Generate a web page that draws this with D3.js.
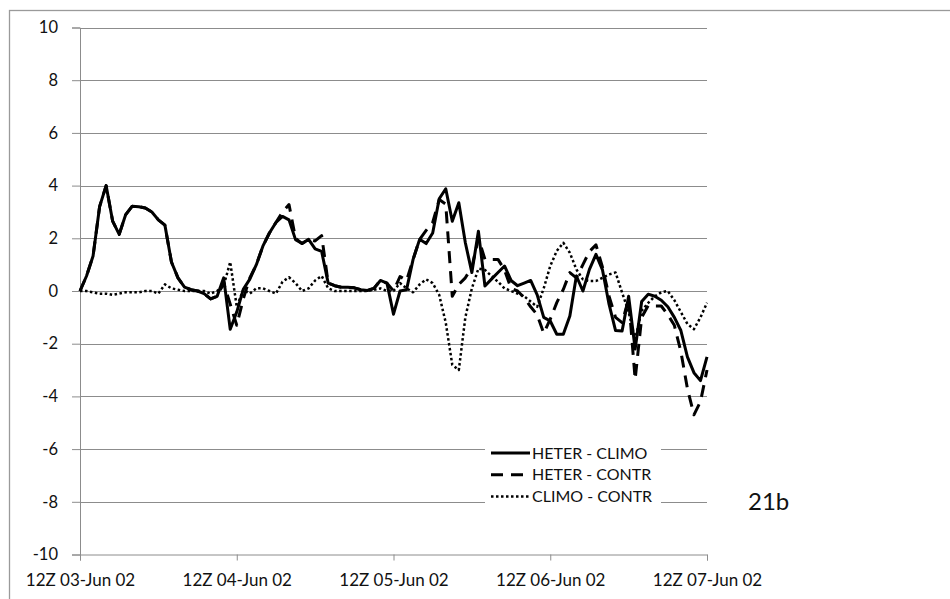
<!DOCTYPE html>
<html><head><meta charset="utf-8">
<script src="https://cdn.jsdelivr.net/npm/d3@7"></script>
<style>html,body{margin:0;padding:0;background:#fff}svg{display:block}</style>
</head><body><svg id="c" width="950" height="599"></svg>
<script>
// hourly values, 12Z 03-Jun 02 .. 12Z 07-Jun 02
const tickLabels = ["12Z 03-Jun 02","12Z 04-Jun 02","12Z 05-Jun 02","12Z 06-Jun 02","12Z 07-Jun 02"];
const tickHours = [0,24,48,72,96];
const yTicks = [-10,-8,-6,-4,-2,0,2,4,6,8,10];
const seriesNames = ["HETER - CLIMO","HETER - CONTR","CLIMO - CONTR"];
const heterClimo = [0,0.57,1.33,3.2,4.0,2.65,2.15,2.9,3.22,3.2,3.15,3.0,2.7,2.5,1.1,0.5,0.15,0.05,0,-0.1,-0.3,-0.2,0.5,-1.45,-0.8,0.06,0.45,1.0,1.7,2.2,2.6,2.83,2.7,1.95,1.8,1.96,1.6,1.5,0.3,0.2,0.14,0.14,0.12,0.05,0.02,0.1,0.4,0.3,-0.88,0,0.05,1.2,1.96,1.8,2.2,3.5,3.88,2.65,3.35,1.83,0.7,2.27,0.19,0.45,0.7,0.95,0.4,0.2,0.3,0.4,-0.15,-1.0,-1.14,-1.64,-1.64,-0.95,0.57,0,0.82,1.39,0.8,-0.5,-1.5,-1.52,-0.2,-2.2,-0.4,-0.12,-0.2,-0.35,-0.6,-1.0,-1.5,-2.5,-3.1,-3.4,-2.5];
const heterContr = [0,0.57,1.33,3.2,4.0,2.65,2.15,2.9,3.22,3.2,3.15,3.0,2.7,2.5,1.1,0.5,0.15,0.05,0,-0.1,-0.3,-0.2,0.3,-0.5,-1.3,-0.3,0.5,1.0,1.7,2.2,2.6,3.0,3.28,2.0,1.8,1.96,1.9,2.1,0.3,0.2,0.14,0.14,0.12,0.05,0.02,0.1,0.4,0.3,0.0,0.55,0.4,1.2,1.96,2.3,2.6,3.47,3.3,-0.2,0.25,0.5,0.9,2.0,1.2,1.2,1.2,0.8,0.1,0.0,-0.25,-0.6,-0.9,-1.6,-1.07,-0.44,0.06,0.7,0.5,1.0,1.5,1.75,0.9,-0.2,-1.0,-1.2,-0.3,-3.35,-1.0,-0.55,-0.57,-0.57,-0.9,-1.3,-2.3,-3.7,-4.7,-4.2,-3.0];
const climoContr = [0,0,-0.05,-0.1,-0.1,-0.15,-0.1,-0.05,-0.05,-0.05,0,0,-0.1,0.25,0.1,0.05,0,0,0,0,-0.1,0,0.2,1.1,-0.6,0.05,-0.1,0.1,0.1,0,-0.1,0.35,0.52,0.3,0,0.1,0.4,0.57,0.1,0,0,0,0,0,0,0.05,0.1,0,0,0.3,0.1,-0.05,0.25,0.44,0.3,-0.15,-1.2,-2.8,-3.0,-1.0,0.1,0.85,0.8,0.57,0.35,0.1,0,-0.1,-0.2,-0.4,-0.6,0.1,0.95,1.52,1.83,1.45,0.82,0.44,0.38,0.38,0.5,0.63,0.7,-0.06,-0.8,-1.83,-0.75,-0.45,-0.2,-0.05,0,-0.35,-0.8,-1.25,-1.45,-1.0,-0.45];
const panelLabel = "21b";

const svg = d3.select("#c");
const font = "Lato, 'Liberation Sans', sans-serif";
const x = d3.scaleLinear().domain([0,96]).range([80,707]);
const y = d3.scaleLinear().domain([-10,10]).range([554.5,27.5]);

// outer chart border (left/top visible)
svg.append("rect").attr("x",9.5).attr("y",10.5).attr("width",1000).attr("height",700)
  .attr("fill","none").attr("stroke","#9a9a9a").attr("stroke-width",1.3);

// gridlines
svg.append("g").selectAll("line").data(yTicks.filter(d=>d>-10)).join("line")
  .attr("x1",x(0)).attr("x2",x(96)).attr("y1",d=>Math.round(y(d))+0.5).attr("y2",d=>Math.round(y(d))+0.5)
  .attr("stroke","#8c8c8c").attr("stroke-width",1);

// y axis
const yAxis = svg.append("g").attr("transform",`translate(${x(0)},0)`)
  .call(d3.axisLeft(y).tickValues(yTicks).tickSize(8).tickPadding(14).tickFormat(d=>String(d)));
yAxis.select(".domain").attr("stroke","#8c8c8c");
yAxis.selectAll(".tick line").attr("stroke","#8c8c8c");
yAxis.selectAll(".tick text").attr("font-family",font).attr("font-size",16.5).attr("fill","#111");

// x axis
const xAxis = svg.append("g").attr("transform",`translate(0,${y(-10)})`)
  .call(d3.axisBottom(x).tickValues(tickHours).tickSize(6).tickPadding(13).tickFormat((d,i)=>tickLabels[i]));
xAxis.select(".domain").attr("stroke","#8c8c8c");
xAxis.selectAll(".tick line").attr("stroke","#8c8c8c");
xAxis.selectAll(".tick text").attr("font-family",font).attr("font-size",17).attr("fill","#111");

const styles = [
  {data:heterClimo, w:3, dash:null},
  {data:heterContr, w:3, dash:"12,8"},
  {data:climoContr, w:2.5, dash:"2.5,2.5"}
];
const line = d3.line().x((d,i)=>x(i)).y(d=>y(d));
svg.append("g").selectAll("path").data(styles.slice().reverse()).join("path")
  .attr("d",s=>line(s.data)).attr("fill","none").attr("stroke","#000")
  .attr("stroke-width",s=>s.w).attr("stroke-dasharray",s=>s.dash)
  .attr("stroke-linejoin","round");

// legend
const lg = svg.append("g");
lg.append("rect").attr("x",485).attr("y",440).attr("width",176).attr("height",67).attr("fill","#fff");
const rows = lg.selectAll("g").data(styles).join("g")
  .attr("transform",(d,i)=>`translate(0,${453+i*21.7})`);
rows.append("line").attr("x1",491).attr("x2",530).attr("y1",0).attr("y2",0)
  .attr("stroke","#000").attr("stroke-width",s=>s.w).attr("stroke-dasharray",s=>s.dash);
rows.append("text").attr("x",532).attr("y",0).attr("dy","0.35em")
  .attr("font-family",font).attr("font-size",16).attr("fill","#111")
  .text((d,i)=>seriesNames[i]);

svg.append("text").attr("x",748).attr("y",510).attr("font-family",font)
  .attr("font-size",24).attr("fill","#111").text(panelLabel);
</script></body></html>
